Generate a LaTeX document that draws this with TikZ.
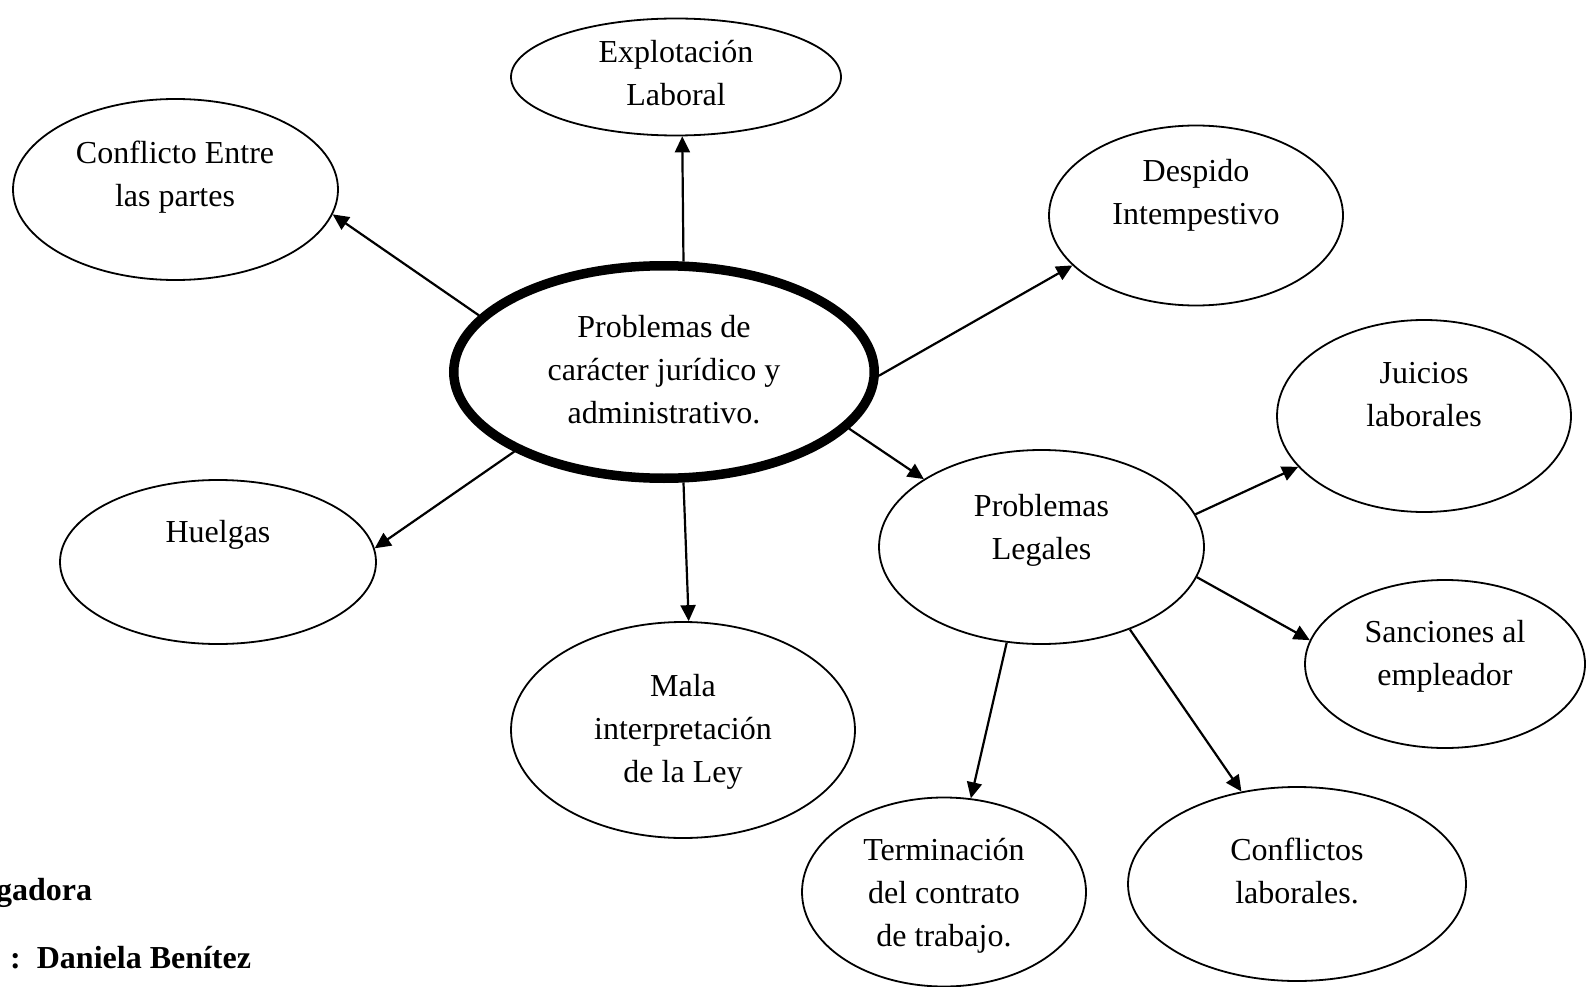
\documentclass[tikz,border=0pt]{standalone}
\usepackage{fontspec}
\setmainfont{Liberation Serif}
\usetikzlibrary{arrows.meta,shapes.geometric}

\begin{document}
\begin{tikzpicture}[x=1pt,y=-1pt,
  bubble/.style={draw, ellipse, line width=1.8pt, inner sep=0pt},
  hub/.style={bubble, line width=9.5pt},
  lbl/.style={align=center, font=\fontsize{32}{43}\selectfont, inner sep=0pt},
  note/.style={anchor=base west, inner sep=0pt, font=\fontsize{32}{43}\selectfont\bfseries},
  conn/.style={line width=2.2pt, -{Triangle[length=16pt,width=15pt]}},
]
\useasboundingbox (0,0) rectangle (1593,987);

% bubbles
\node[hub,    minimum width=420.5pt, minimum height=212.5pt] (cen)   at (664,372) {};
\node[bubble, minimum width=330pt, minimum height=117pt] (expl)  at (676,77) {};
\node[bubble, minimum width=325pt, minimum height=181pt] (conf)  at (175.5,189.5) {};
\node[bubble, minimum width=294pt, minimum height=180pt] (desp)  at (1196,215.5) {};
\node[bubble, minimum width=294pt, minimum height=192pt] (juic)  at (1424,416) {};
\node[bubble, minimum width=316pt, minimum height=164pt] (huel)  at (218,562) {};
\node[bubble, minimum width=325pt, minimum height=194pt] (leg)   at (1041.5,547) {};
\node[bubble, minimum width=280pt, minimum height=168pt] (sanc)  at (1445,664) {};
\node[bubble, minimum width=344pt, minimum height=216pt] (mala)  at (683,730) {};
\node[bubble, minimum width=284pt, minimum height=189pt] (term)  at (944,892) {};
\node[bubble, minimum width=338pt, minimum height=194pt] (confl) at (1297,884) {};

% labels
\node[lbl] (cen-t)   at (664,370)    {Problemas de\\carácter jurídico y\\administrativo.};
\node[lbl] (expl-t)  at (676,73)     {Explotación\\Laboral};
\node[lbl] (conf-t)  at (175,177)    {Conflicto Entre\\las partes};
\node[lbl] (desp-t)  at (1196,195.5) {Despido\\Intempestivo};
\node[lbl] (juic-t)  at (1424,395)   {Juicios\\laborales};
\node[lbl] (huel-t)  at (218,535)    {Huelgas};
\node[lbl] (leg-t)   at (1041.5,530) {Problemas\\Legales};
\node[lbl] (sanc-t)  at (1445,656)   {Sanciones al\\empleador};
\node[lbl] (mala-t)  at (683,732)    {Mala\\interpretación\\de la Ley};
\node[lbl] (term-t)  at (944,896)    {Terminación\\del contrato\\de trabajo.};
\node[lbl] (confl-t) at (1297,871)   {Conflictos\\laborales.};

% connectors
\draw[conn] (cen.80.7)   -- (expl.-84.1);
\draw[conn] (cen.163.9)  -- (conf.-9.4);
\draw[conn] (cen.-1.2)   -- (desp.-158.3);
\draw[conn] (cen.-152.85) -- (huel.5);
\draw[conn] (cen.-80.9)  -- (mala.87.8);
\draw[conn] (cen.-17.65) -- (leg.150.1);
\draw[conn] (leg.12.6)   -- (juic.-158.5);
\draw[conn] (leg.-11.5)  -- (sanc.170.95);
\draw[conn] (leg.-110.8) -- (term.74.4);
\draw[conn] (leg.-43.8)  -- (confl.121.2);

% credits, bottom left
\node[note] (cred1) at (-4,900) {gadora};
\node[note] (cred2) at (10,968) {:\ \ Daniela Benítez};
\end{tikzpicture}
\end{document}
